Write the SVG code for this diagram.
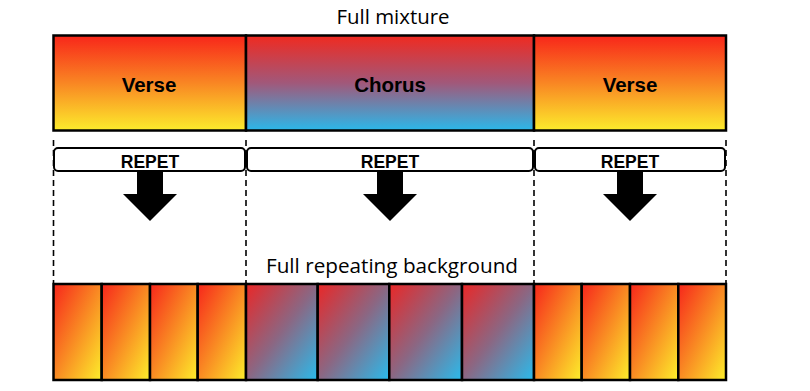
<svg xmlns="http://www.w3.org/2000/svg" width="810" height="391" viewBox="0 0 810 391">
<defs>
<linearGradient id="gVerse" x1="0" y1="0" x2="0" y2="1">
<stop offset="0" stop-color="#f8261a"/>
<stop offset="0.5" stop-color="#f98623"/>
<stop offset="1" stop-color="#fcec2c"/>
</linearGradient>
<linearGradient id="gChorus" x1="0" y1="0" x2="0" y2="1">
<stop offset="0" stop-color="#f02a20"/>
<stop offset="0.5" stop-color="#a1587a"/>
<stop offset="1" stop-color="#2bb8ea"/>
</linearGradient>
<linearGradient id="dVerse" x1="0" y1="0" x2="1" y2="1">
<stop offset="0" stop-color="#f7261b"/>
<stop offset="0.5" stop-color="#f98a23"/>
<stop offset="1" stop-color="#fdef2b"/>
</linearGradient>
<linearGradient id="dChorus" x1="0" y1="0" x2="1" y2="1">
<stop offset="0" stop-color="#ea2727"/>
<stop offset="0.5" stop-color="#8b6783"/>
<stop offset="1" stop-color="#2abbec"/>
</linearGradient>
</defs>
<style>
.box{stroke:#000;stroke-width:2.5}
.cell{stroke:#000;stroke-width:2.5}
.lbl{font-family:"Liberation Sans",Arial,sans-serif;font-weight:bold;font-size:20.5px;text-anchor:middle;fill:#000}
.rep{font-family:"Liberation Sans",Arial,sans-serif;font-weight:bold;font-size:17.5px;text-anchor:middle;fill:#000}
.ttl{font-family:"Open Sans","Liberation Sans",sans-serif;font-size:20px;text-anchor:middle;fill:#000}
.rbox{fill:#fff;stroke:#000;stroke-width:2}
.dash{stroke:#000;stroke-width:1.6;stroke-dasharray:6 4;fill:none}
.arrow{fill:#000}
</style>
<rect width="810" height="391" fill="#fff"/>
<text class="ttl" x="393" y="24" textLength="113" lengthAdjust="spacingAndGlyphs">Full mixture</text>
<g id="connectors">
<line class="dash" x1="53.5" y1="140" x2="53.5" y2="283"/>
<line class="dash" x1="246" y1="140" x2="246" y2="283"/>
<line class="dash" x1="534" y1="140" x2="534" y2="283"/>
<line class="dash" x1="726" y1="140" x2="726" y2="283"/>
</g>
<g id="verse1">
<rect class="box" x="53.5" y="35.5" width="192.5" height="95" fill="url(#gVerse)"/>
<text class="lbl" x="149" y="92">Verse</text>
</g>
<g id="chorus">
<rect class="box" x="246" y="35.5" width="288" height="95" fill="url(#gChorus)"/>
<text class="lbl" x="390" y="92">Chorus</text>
</g>
<g id="verse2">
<rect class="box" x="534" y="35.5" width="192" height="95" fill="url(#gVerse)"/>
<text class="lbl" x="630" y="92">Verse</text>
</g>
<g id="repet1">
<rect class="rbox" x="54" y="148" width="191" height="23" rx="4"/>
<text class="rep" x="150" y="167.5">REPET</text>
<polygon class="arrow" points="137,172 163,172 163,194 177,194 150,221 123,194 137,194"/>
</g>
<g id="repet2">
<rect class="rbox" x="247" y="148" width="286" height="23" rx="4"/>
<text class="rep" x="390" y="167.5">REPET</text>
<polygon class="arrow" points="377,172 403,172 403,194 417,194 390,221 363,194 377,194"/>
</g>
<g id="repet3">
<rect class="rbox" x="535" y="148" width="190" height="23" rx="4"/>
<text class="rep" x="630" y="167.5">REPET</text>
<polygon class="arrow" points="617,172 643,172 643,194 657,194 630,221 603,194 617,194"/>
</g>
<text class="ttl" x="392" y="273" textLength="252" lengthAdjust="spacingAndGlyphs">Full repeating background</text>
<g id="background">
<rect class="cell" x="53.5" y="284" width="48.2" height="96" fill="url(#dVerse)"/>
<rect class="cell" x="101.7" y="284" width="48.3" height="96" fill="url(#dVerse)"/>
<rect class="cell" x="150" y="284" width="47.7" height="96" fill="url(#dVerse)"/>
<rect class="cell" x="197.7" y="284" width="48.3" height="96" fill="url(#dVerse)"/>
<rect class="cell" x="246" y="284" width="71.7" height="96" fill="url(#dChorus)"/>
<rect class="cell" x="317.7" y="284" width="71.6" height="96" fill="url(#dChorus)"/>
<rect class="cell" x="389.3" y="284" width="72.7" height="96" fill="url(#dChorus)"/>
<rect class="cell" x="462" y="284" width="72" height="96" fill="url(#dChorus)"/>
<rect class="cell" x="534" y="284" width="47.7" height="96" fill="url(#dVerse)"/>
<rect class="cell" x="581.7" y="284" width="48.3" height="96" fill="url(#dVerse)"/>
<rect class="cell" x="630" y="284" width="48.3" height="96" fill="url(#dVerse)"/>
<rect class="cell" x="678.3" y="284" width="47.7" height="96" fill="url(#dVerse)"/>
</g>
</svg>
